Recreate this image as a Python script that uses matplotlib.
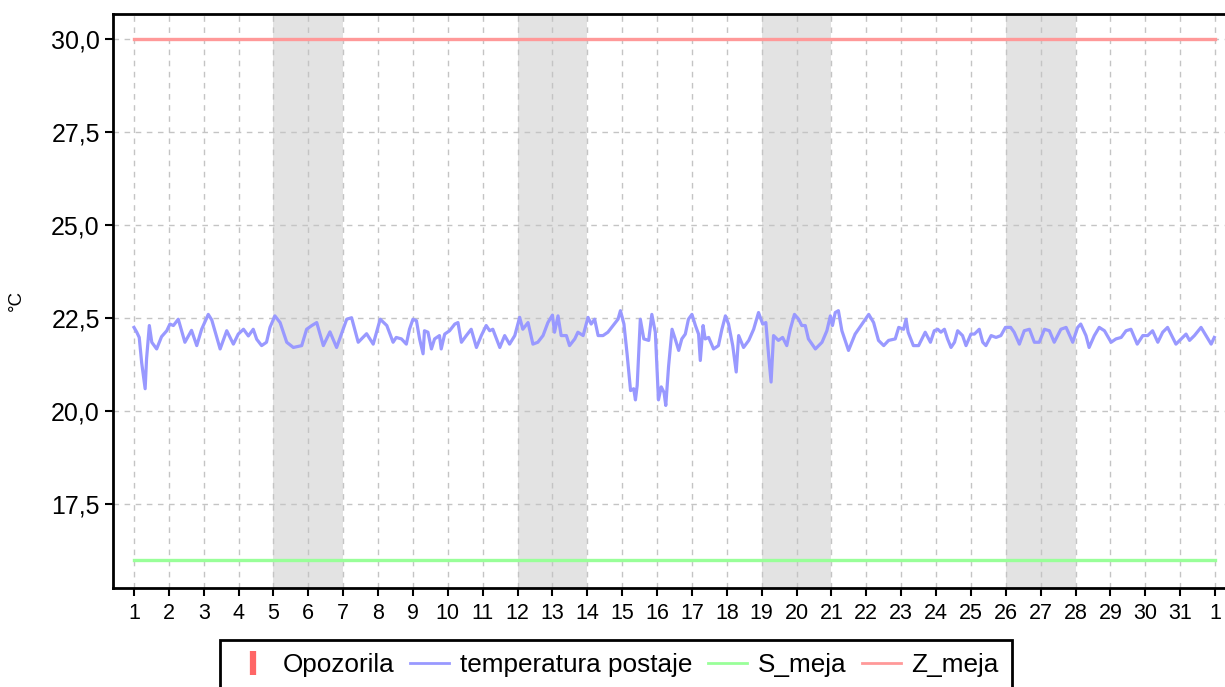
import matplotlib.pyplot as plt
from matplotlib.lines import Line2D

plt.rcParams['font.family'] = ['Liberation Sans', 'DejaVu Sans']

# os x: dnevi v mesecu (zadnji "1" je prvi dan naslednjega meseca)
dni = list(range(1, 33))
oznake_dni = [str(d) for d in range(1, 32)] + ['1']
vikendi = [5, 12, 19, 26]  # sobota, nedelja
y_ticks = [17.5, 20.0, 22.5, 25.0, 27.5, 30.0]

z_meja = 30.0
s_meja = 16.0

# temperatura postaje (cas v dnevih)
cas = [
    1.0, 1.08, 1.15, 1.22, 1.32, 1.36, 1.44, 1.51, 1.65, 1.79, 1.94,
    2.03, 2.13, 2.27, 2.46, 2.65, 2.80, 2.94, 3.13, 3.23, 3.47, 3.66, 3.85, 3.99,
    4.14, 4.28, 4.42, 4.52, 4.66, 4.80, 4.90, 5.04, 5.19, 5.38, 5.57, 5.81, 5.95,
    6.10, 6.24, 6.43, 6.62, 6.81, 6.96, 7.10, 7.24, 7.43, 7.67, 7.86, 8.06, 8.25,
    8.43, 8.52, 8.67, 8.81, 8.9, 9.0, 9.1, 9.19, 9.29, 9.33, 9.43, 9.53, 9.62,
    9.76, 9.81, 9.91, 10.05, 10.2, 10.29, 10.39, 10.53, 10.67, 10.82, 10.96,
    11.1, 11.2, 11.29, 11.49, 11.63, 11.77, 11.92, 12.06, 12.15, 12.3, 12.44,
    12.58, 12.73, 12.87, 13.0, 13.06, 13.16, 13.25, 13.4, 13.49, 13.64, 13.73,
    13.88, 14.02, 14.11, 14.21, 14.31, 14.45, 14.59, 14.74, 14.88, 14.95, 15.05,
    15.14, 15.24, 15.33, 15.38, 15.43, 15.52, 15.62, 15.76, 15.85, 15.95,
    16.04, 16.12, 16.2, 16.25, 16.33, 16.43, 16.52, 16.62, 16.71, 16.81, 16.9,
    17.0, 17.1, 17.19, 17.24, 17.32, 17.38, 17.48, 17.62, 17.76, 17.86, 17.96,
    18.05, 18.17, 18.27, 18.34, 18.48, 18.63, 18.77, 18.91, 19.03, 19.12, 19.2,
    19.27, 19.34, 19.48, 19.6, 19.72, 19.82, 19.94, 20.06, 20.15, 20.25, 20.34,
    20.54, 20.73, 20.87, 20.97, 21.03, 21.11, 21.2, 21.3, 21.49, 21.68, 21.88,
    22.07, 22.21, 22.35, 22.5, 22.64, 22.83, 22.93, 23.07, 23.14, 23.2, 23.35,
    23.5, 23.69, 23.84, 23.95, 24.05, 24.14, 24.24, 24.33, 24.43, 24.53, 24.62,
    24.76, 24.86, 25.0, 25.1, 25.24, 25.34, 25.43, 25.58, 25.72, 25.86, 25.99,
    26.14, 26.24, 26.39, 26.53, 26.68, 26.82, 26.96, 27.11, 27.25, 27.39, 27.58,
    27.73, 27.92, 28.06, 28.15, 28.3, 28.39, 28.54, 28.68, 28.83, 29.02, 29.16,
    29.31, 29.45, 29.59, 29.77, 29.93, 30.07, 30.21, 30.36, 30.5, 30.64, 30.88,
    31.03, 31.17, 31.27, 31.41, 31.6, 31.74, 31.89, 31.98,
]
temperatura = [
    22.25, 22.12, 21.98, 21.3, 20.6, 21.4, 22.3, 21.85, 21.67, 22.0, 22.16,
    22.34, 22.3, 22.47, 21.85, 22.17, 21.76, 22.2, 22.6, 22.45, 21.67, 22.16, 21.8, 22.07,
    22.2, 22.02, 22.2, 21.93, 21.76, 21.85, 22.25, 22.56, 22.38, 21.85, 21.71, 21.76, 22.2,
    22.3, 22.38, 21.76, 22.13, 21.71, 22.1, 22.47, 22.51, 21.85, 22.08, 21.8, 22.47, 22.3,
    21.85, 21.98, 21.94, 21.8, 22.2, 22.47, 22.43, 21.94, 21.54, 22.16, 22.12, 21.67, 21.94,
    22.03, 21.67, 22.07, 22.16, 22.34, 22.38, 21.85, 22.03, 22.2, 21.71, 22.03,
    22.3, 22.16, 22.2, 21.71, 22.03, 21.8, 22.03, 22.52, 22.2, 22.38, 21.8,
    21.85, 22.03, 22.38, 22.58, 22.12, 22.56, 22.03, 22.03, 21.76, 21.94, 22.12,
    22.03, 22.52, 22.34, 22.47, 22.03, 22.03, 22.12, 22.3, 22.47, 22.7, 22.34,
    21.54, 20.55, 20.6, 20.3, 20.69, 22.47, 21.94, 21.9, 22.6, 22.12,
    20.3, 20.65, 20.5, 20.15, 21.2, 22.2, 21.94, 21.63, 21.94, 22.07, 22.47,
    22.6, 22.3, 22.07, 21.36, 22.3, 21.94, 21.98, 21.67, 21.76, 22.2, 22.56,
    22.34, 21.76, 21.05, 22.03, 21.71, 21.9, 22.2, 22.65, 22.34, 22.38, 21.49,
    20.78, 22.03, 21.9, 21.98, 21.76, 22.2, 22.6, 22.47, 22.3, 22.3, 21.94,
    21.67, 21.85, 22.16, 22.56, 22.3, 22.65, 22.7, 22.16, 21.63, 22.07, 22.34,
    22.6, 22.38, 21.9, 21.76, 21.9, 21.94, 22.25, 22.2, 22.47, 22.12, 21.76,
    21.76, 22.12, 21.85, 22.16, 22.2, 22.12, 22.2, 21.94, 21.71, 21.85, 22.16,
    22.03, 21.76, 22.07, 22.07, 22.2, 21.85, 21.76, 22.03, 21.98, 22.03, 22.25,
    22.25, 22.12, 21.8, 22.16, 22.2, 21.85, 21.85, 22.2, 22.16, 21.85, 22.2,
    22.25, 21.85, 22.25, 22.34, 22.03, 21.71, 22.03, 22.25, 22.16, 21.85, 21.94,
    21.98, 22.16, 22.2, 21.8, 22.03, 22.03, 22.16, 21.85, 22.12, 22.25, 21.8,
    21.94, 22.07, 21.9, 22.03, 22.25, 22.03, 21.8, 21.98,
]

fig = plt.figure(figsize=(12.25, 6.87), dpi=100)
ax = fig.add_axes([113 / 1225, 1 - 588 / 687, (1240 - 113) / 1225, (588 - 14) / 687])

for v in vikendi:
    ax.axvspan(v, v + 2, color='#e3e3e3', zorder=0, lw=0)

ax.plot([dni[0], dni[-1]], [z_meja, z_meja], color='#ff9999', lw=2.4, zorder=3)
ax.plot([dni[0], dni[-1]], [s_meja, s_meja], color='#99ff99', lw=2.4, zorder=3)
ax.plot(cas, temperatura, color='#9999ff', lw=2.3, zorder=4)

ax.set_xlim(0.398, 32.717)
ax.set_ylim(15.24, 30.68)
ax.set_xticks(dni)
ax.set_xticklabels(oznake_dni, fontsize=15.5)
ax.set_yticks(y_ticks)
ax.set_yticklabels([f'{v:.1f}'.replace('.', ',') for v in y_ticks], fontsize=18)
ax.tick_params(direction='out', length=6, width=1.5, color='black')
ax.tick_params(axis='x', pad=5)

ax.grid(True, color='#c4c4c4', linestyle=(0, (4, 4)), lw=1)
ax.set_axisbelow(True)
for s in ['left', 'top', 'bottom']:
    ax.spines[s].set_linewidth(2)
ax.spines['right'].set_visible(False)

fig.text(16 / 1225, 1 - 301 / 687, '°C', rotation=90, ha='center', va='center', fontsize=13.5)

# legenda
handles = [
    Line2D([], [], color='#ff6666', marker='|', linestyle='None', markersize=17, markeredgewidth=4.5),
    Line2D([], [], color='#9999ff', lw=2),
    Line2D([], [], color='#99ff99', lw=2),
    Line2D([], [], color='#ff9999', lw=2),
]
labels = ['Opozorila', 'temperatura postaje', 'S_meja', 'Z_meja']
leg = fig.legend(handles, labels, loc='upper left', bbox_to_anchor=(220 / 1225, 1 - 640 / 687),
                 ncol=4, fancybox=False, edgecolor='black', framealpha=1, fontsize=18.8,
                 handlelength=1.5, handletextpad=0.4, columnspacing=0.6, borderpad=0.5,
                 borderaxespad=0)
leg.get_frame().set_linewidth(2)

fig.savefig('out.png', dpi=100)
